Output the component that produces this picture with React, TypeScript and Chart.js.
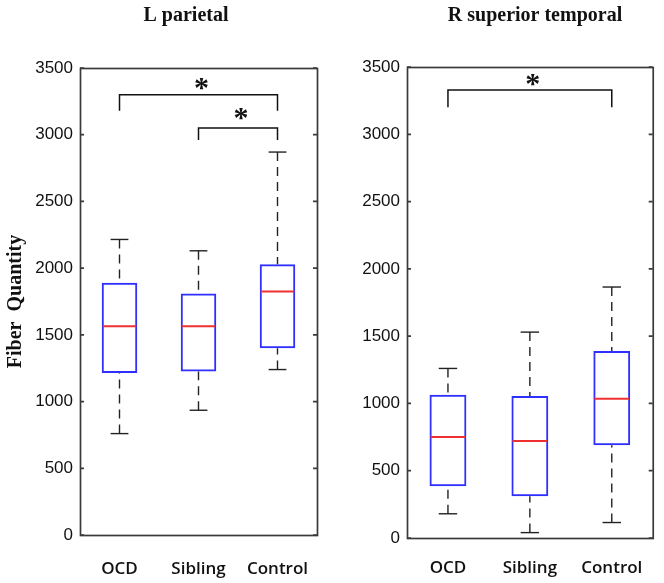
import React, { useEffect, useRef } from "react";
import { Chart, registerables } from "chart.js";

Chart.register(...registerables);

// ---------- data ----------
const categories = ["OCD", "Sibling", "Control"];
const yMin = 0;
const yMax = 3500;
const yStep = 500;

// L parietal
const lpLow = [760, 935, 1240];
const lpQ1 = [1215, 1225, 1400];
const lpMedian = [1565, 1565, 1825];
const lpQ3 = [1890, 1810, 2030];
const lpHigh = [2215, 2130, 2870];
const lpBracketFrom = [0, 1];
const lpBracketTo = [2, 2];
const lpBracketLevel = [3300, 3050];
const lpBracketLegEnd = [3180, 2960];
const lpStarLevel = [3395, 3170];

// R superior temporal
const rsLow = [180, 40, 115];
const rsQ1 = [385, 310, 690];
const rsMedian = [750, 720, 1035];
const rsQ3 = [1065, 1055, 1390];
const rsHigh = [1260, 1530, 1865];
const rsBracketFrom = [0];
const rsBracketTo = [2];
const rsBracketLevel = [3330];
const rsBracketLegEnd = [3200];
const rsStarLevel = [3420];

const yAxisTitle = "Fiber  Quantity";
const lpTitle = "L parietal";
const rsTitle = "R superior temporal";

// ---------- styles ----------
const BOX_BLUE = "#2f2fff";
const MEDIAN_RED = "#f03030";
const FRAME = "#3a3a3a";
const SERIF = "'Liberation Serif', 'Times New Roman', serif";
const NARROW = "'Liberation Sans Narrow', 'Arial Narrow', 'Liberation Sans', sans-serif";

const boxExtras = {
  id: "boxExtras",
  afterDatasetsDraw(chart: any, _args: any, opts: any) {
    const { ctx } = chart;
    const x = chart.scales.x;
    const y = chart.scales.y;
    const meta = chart.getDatasetMeta(0);
    ctx.save();
    opts.median.forEach((m: number, i: number) => {
      const el: any = meta.data[i];
      const cx = x.getPixelForValue(i);
      const half = el.width / 2;
      const capHalf = el.width / 4;
      const line = (x1: number, y1: number, x2: number, y2: number) => {
        ctx.beginPath();
        ctx.moveTo(x1, y1);
        ctx.lineTo(x2, y2);
        ctx.stroke();
      };
      // dashed whiskers
      ctx.strokeStyle = "#222";
      ctx.lineWidth = 1.4;
      ctx.setLineDash([9, 6]);
      line(cx, y.getPixelForValue(opts.high[i]), cx, y.getPixelForValue(opts.q3[i]));
      line(cx, y.getPixelForValue(opts.low[i]), cx, y.getPixelForValue(opts.q1[i]));
      ctx.setLineDash([]);
      // caps
      line(cx - capHalf, y.getPixelForValue(opts.high[i]), cx + capHalf, y.getPixelForValue(opts.high[i]));
      line(cx - capHalf, y.getPixelForValue(opts.low[i]), cx + capHalf, y.getPixelForValue(opts.low[i]));
      // median
      ctx.strokeStyle = MEDIAN_RED;
      ctx.lineWidth = 2;
      const my = y.getPixelForValue(m);
      line(cx - half + 1, my, cx + half - 1, my);
    });
    ctx.restore();
  },
  afterDraw(chart: any, _args: any, opts: any) {
    const { ctx, chartArea } = chart;
    const x = chart.scales.x;
    const y = chart.scales.y;
    ctx.save();
    // frame
    ctx.strokeStyle = FRAME;
    ctx.lineWidth = 1.7;
    ctx.strokeRect(chartArea.left + 0.5, chartArea.top + 0.5, chartArea.right - chartArea.left, chartArea.bottom - chartArea.top);
    // inward ticks
    y.ticks.forEach((t: any) => {
      const py = y.getPixelForValue(t.value);
      ctx.beginPath();
      ctx.moveTo(chartArea.left, py);
      ctx.lineTo(chartArea.left + 4, py);
      ctx.moveTo(chartArea.right, py);
      ctx.lineTo(chartArea.right - 4, py);
      ctx.stroke();
    });
    // brackets
    ctx.strokeStyle = "#111";
    ctx.lineWidth = 1.5;
    ctx.fillStyle = "#111";
    ctx.font = `bold 30px ${SERIF}`;
    ctx.textAlign = "center";
    ctx.textBaseline = "alphabetic";
    opts.bracketFrom.forEach((f: number, i: number) => {
      const x1 = x.getPixelForValue(f);
      const x2 = x.getPixelForValue(opts.bracketTo[i]);
      const yb = y.getPixelForValue(opts.bracketLevel[i]);
      const yl = y.getPixelForValue(opts.bracketLegEnd[i]);
      ctx.beginPath();
      ctx.moveTo(x1, yl);
      ctx.lineTo(x1, yb);
      ctx.lineTo(x2, yb);
      ctx.lineTo(x2, yl);
      ctx.stroke();
      const ys = y.getPixelForValue(opts.starLevel[i]);
      ctx.fillText("*", (x1 + x2) / 2 + 3, ys + 15);
    });
    // panel title
    ctx.font = `bold 20px ${SERIF}`;
    ctx.fillStyle = "#111";
    ctx.textAlign = "center";
    ctx.fillText(opts.title, opts.titleX, 21);
    ctx.restore();
  },
};

function makeConfig(p: any): any {
  return {
    type: "bar",
    data: {
      labels: categories,
      datasets: [
        {
          label: p.title,
          data: categories.map((_, i) => [p.q1[i], p.q3[i]]),
          backgroundColor: "rgba(0,0,0,0)",
          borderColor: BOX_BLUE,
          borderWidth: 2,
          borderSkipped: false,
          barPercentage: 0.45,
          categoryPercentage: 1,
        },
      ],
    },
    options: {
      responsive: false,
      animation: false,
      devicePixelRatio: 1,
      layout: { padding: { left: 0, right: p.padRight, top: p.padTop, bottom: 0 } },
      plugins: {
        legend: { display: false },
        title: { display: false },
        tooltip: { enabled: false },
        boxExtras: {
          low: p.low,
          q1: p.q1,
          median: p.median,
          q3: p.q3,
          high: p.high,
          bracketFrom: p.bracketFrom,
          bracketTo: p.bracketTo,
          bracketLevel: p.bracketLevel,
          bracketLegEnd: p.bracketLegEnd,
          starLevel: p.starLevel,
          title: p.title,
          titleX: p.titleX,
        },
      },
      scales: {
        x: {
          type: "category",
          offset: true,
          grid: { display: false, drawTicks: false },
          border: { display: false },
          ticks: {
            font: { family: "'Open Sans', sans-serif", size: 17, weight: "600", lineHeight: p.xLineHeight },
            color: "#111",
            padding: 20,
          },
          afterFit: (s: any) => {
            s.height = p.xHeight;
          },
        },
        y: {
          min: yMin,
          max: yMax,
          grid: { display: false, drawTicks: false },
          border: { display: false },
          ticks: {
            stepSize: yStep,
            font: { family: NARROW, size: 17 },
            color: "#111",
            padding: 7,
            callback: (v: any) => String(v),
          },
          title: p.yTitle
            ? {
                display: true,
                text: p.yTitle,
                font: { family: SERIF, size: 20, weight: "bold" },
                color: "#111",
                padding: { top: 4, bottom: 0 },
              }
            : { display: false },
          afterFit: (s: any) => {
            s.width = p.yWidth;
          },
        },
      },
    },
    plugins: [boxExtras],
  };
}

function Panel(props: any) {
  const ref = useRef<HTMLCanvasElement>(null);
  useEffect(() => {
    if (!ref.current) return;
    const chart = new Chart(ref.current, makeConfig(props.p));
    return () => chart.destroy();
  }, []);
  return (
    <canvas
      ref={ref}
      width={332}
      height={583}
      style={{ position: "absolute", left: props.left, top: 0, width: 332, height: 583 }}
    />
  );
}

export default function App() {
  const left = {
    title: lpTitle,
    titleX: 186,
    low: lpLow,
    q1: lpQ1,
    median: lpMedian,
    q3: lpQ3,
    high: lpHigh,
    bracketFrom: lpBracketFrom,
    bracketTo: lpBracketTo,
    bracketLevel: lpBracketLevel,
    bracketLegEnd: lpBracketLegEnd,
    starLevel: lpStarLevel,
    yTitle: yAxisTitle,
    yWidth: 80,
    xHeight: 48,
    xLineHeight: 1.65,
    padTop: 68,
    padRight: 15,
  };
  const right = {
    title: rsTitle,
    titleX: 203,
    low: rsLow,
    q1: rsQ1,
    median: rsMedian,
    q3: rsQ3,
    high: rsHigh,
    bracketFrom: rsBracketFrom,
    bracketTo: rsBracketTo,
    bracketLevel: rsBracketLevel,
    bracketLegEnd: rsBracketLegEnd,
    starLevel: rsStarLevel,
    yTitle: null,
    yWidth: 75,
    xHeight: 45,
    xLineHeight: 1.2,
    padTop: 67,
    padRight: 10,
  };
  return (
    <div style={{ position: "fixed", left: 0, top: 0, width: 664, height: 583, background: "#fff", overflow: "hidden" }}>
      <Panel p={left} left={0} />
      <Panel p={right} left={332} />
    </div>
  );
}
